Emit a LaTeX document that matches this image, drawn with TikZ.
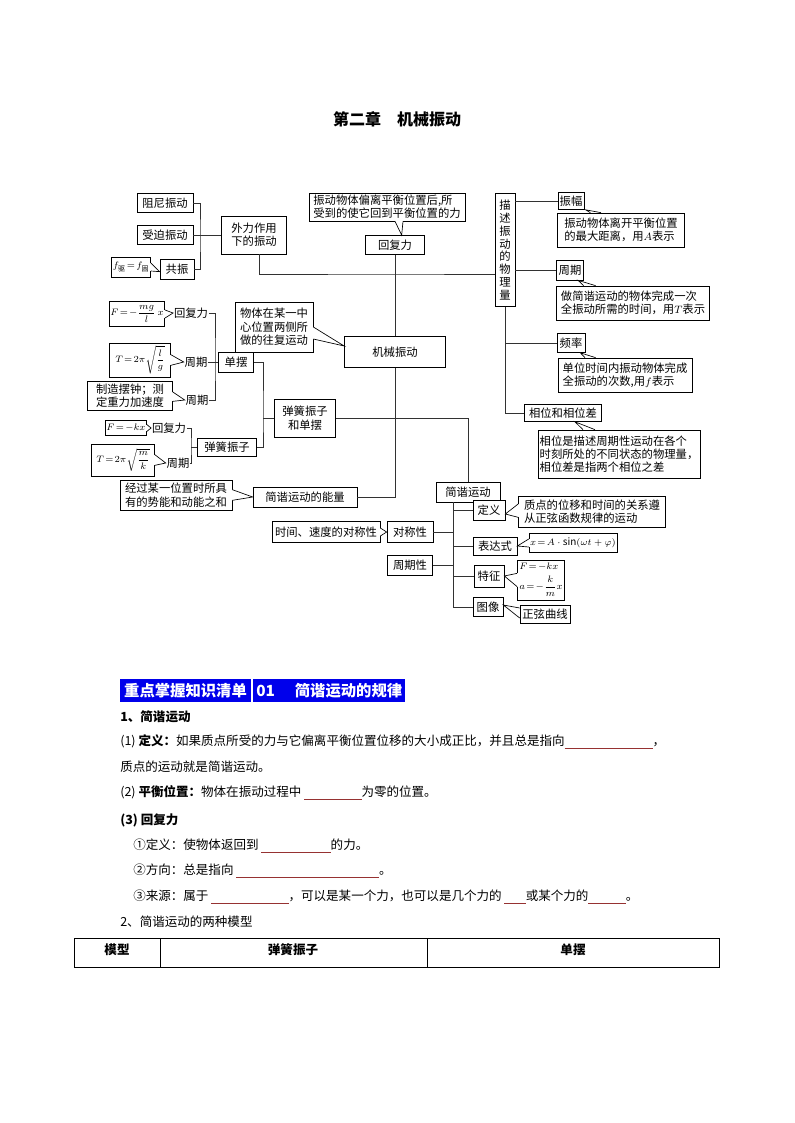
\documentclass[tikz,border=0pt]{standalone}
\usepackage{amsmath}
\usepackage{fontspec}
\setmainfont{Noto Sans CJK SC}
\usetikzlibrary{calc}
\definecolor{headblue}{RGB}{0,0,235}
\definecolor{blankred}{RGB}{150,50,50}
\definecolor{linegrey}{RGB}{50,50,50}
\newcommand{\dfont}{\fontsize{8.5}{10}\selectfont}
\newcommand{\vfont}{\fontsize{8.5}{9.6}\selectfont}
\newcommand{\mfont}{\fontsize{7}{8}\selectfont}
\newcommand{\tfont}{\fontsize{9.4}{11}\selectfont}
\newcommand{\blank}[1]{\textcolor{blankred}{\rule[-2.5pt]{#1pt}{0.75pt}}}
% speech-bubble pointer: two base points on a box edge and a tip
\newcommand{\pointto}[3]{%
  \fill[white] (#1) -- (#3) -- (#2) -- cycle;
  \draw[white, line width=1.2pt] (#1) -- (#2);
  \draw[line width=0.5pt] (#1) -- (#3) -- (#2);}

\begin{document}
\begin{tikzpicture}[x=0.75pt, y=-0.75pt,
    sz/.style 2 args={minimum width=#1*0.75pt, minimum height=#2*0.75pt},
    box/.style={draw, fill=white, line width=0.5pt, font=\dfont, align=center, inner sep=0.8pt},
    note/.style={box, align=left, inner sep=0.6pt},
    tag/.style={font=\dfont, inner sep=0.5pt},
    link/.style={line width=0.5pt, linegrey},
    txt/.style={anchor=west, font=\tfont, inner sep=0pt},
    headbox/.style={fill=headblue, text=white, font=\bfseries\fontsize{11.5}{13}\selectfont, inner sep=1pt}
]
\fill[white] (0,0) rectangle (794,1123);
\useasboundingbox (0,0) rectangle (794,1123);

\node[font=\bfseries\fontsize{12}{14}\selectfont] (title) at (397,119) {第二章\quad 机械振动};

% left group: forced vibration
\node[box, sz={56}{19}] (zuni)     at (165,203) {阻尼振动};
\node[box, sz={56}{19}] (shoupo)   at (165,235) {受迫振动};
\node[box, sz={34}{20}] (gongzhen) at (177,269) {共振};
\node[box, sz={39}{20}, font=\fontsize{7.5}{9}\selectfont] (fqu) at (131,267) {$f_{\text{驱}}\!=\!f_{\text{固}}$};
\node[box, sz={65}{38}] (waili)    at (254,235) {外力作用\\下的振动};

% restoring force
\node[note, sz={156}{28}] (fuli_note) at (387,207) {振动物体偏离平衡位置后,所\\受到的使它回到平衡位置的力};
\node[box, sz={59}{19}] (huifuli) at (395,245) {回复力};

% physical quantities
\node[box, sz={20}{113}, font=\vfont, inner sep=0pt] (miaoshu) at (505,250) {描\\述\\振\\动\\的\\物\\理\\量};
\node[box, sz={26}{17}]   (zhenfu)        at (571,201) {振幅};
\node[note, sz={127}{34}] (zhenfu_note)   at (621,230) {振动物体离开平衡位置\\的最大距离，用$A$表示};
\node[box, sz={27}{20}]   (zhouqi)        at (570,270) {周期};
\node[note, sz={153}{34}] (zhouqi_note)   at (633,303) {做简谐运动的物体完成一次\\全振动所需的时间，用$T$表示};
\node[box, sz={28}{19}]   (pinlv)         at (571,343) {频率};
\node[note, sz={134}{34}] (pinlv_note)    at (625,375) {单位时间内振动物体完成\\全振动的次数,用$f$表示};
\node[box, sz={77}{17}]   (xiangwei)      at (563,413) {相位和相位差};
\node[note, sz={162}{48}] (xiangwei_note) at (619,454) {相位是描述周期性运动在各个\\时刻所处的不同状态的物理量，\\相位差是指两个相位之差};

% pendulum
\node[box, sz={51}{25}, font=\mfont] (fd1) at (137,314) {$F\!=\!-\dfrac{mg}{l}\,x$};
\node[tag] (hf1) at (191,313) {回复力};
\node[box, sz={61}{34}, font=\mfont] (td1) at (140,360) {$T\!=\!2\pi\sqrt{\dfrac{l}{g}}$};
\node[tag] (zq1) at (196,362) {周期};
\node[box, sz={85}{29}] (baizhong) at (130,396) {制造摆钟；测\\定重力加速度};
\node[tag] (zq2) at (197,400) {周期};
\node[box, sz={35}{20}] (danbai) at (236,362) {单摆};

% mechanical vibration
\node[note, sz={78}{50}] (jixie_note) at (274,327) {物体在某一中\\心位置两侧所\\做的往复运动};
\node[box, sz={101}{31}] (jixie) at (395,352) {机械振动};
\node[box, sz={61}{38}] (tdb) at (305,418) {弹簧振子\\和单摆};

% spring oscillator
\node[box, sz={35}{15}, font=\fontsize{7.5}{9}\selectfont] (fd2) at (126,428) {$F\!=\!-kx$};
\node[tag] (hf2) at (169,428) {回复力};
\node[box, sz={59}{18}] (tanhuang) at (227,447) {弹簧振子};
\node[box, sz={63}{32}, font=\mfont] (td2) at (123,460) {$T\!=\!2\pi\sqrt{\dfrac{m}{k}}$};
\node[tag] (zq3) at (178,463) {周期};

% energy
\node[note, sz={112}{30}] (nl_note) at (176,495) {经过某一位置时所具\\有的势能和动能之和};
\node[box, sz={104}{20}] (nengliang) at (305,497) {简谐运动的能量};

% simple harmonic motion
\node[box, sz={64}{20}]  (jianxie)  at (468,492) {简谐运动};
\node[box, sz={108}{21}] (dc_note)  at (326,532) {时间、速度的对称性};
\node[box, sz={46}{21}]  (duichen)  at (410,532) {对称性};
\node[box, sz={45}{20}]  (zqx)      at (410,565) {周期性};
\node[box, sz={32}{20}]  (dingyi)   at (489,510) {定义};
\node[note, sz={147}{31}] (dy_note) at (592,512) {质点的位移和时间的关系遵\\从正弦函数规律的运动};
\node[box, sz={44}{18}]  (bds)      at (495,546) {表达式};
\node[box, sz={83}{19}, font=\fontsize{7.5}{9}\selectfont] (bds_note) at (573,543) {$x\!=\!A\cdot\sin(\omega t+\varphi)$};
\node[box, sz={30}{22}]  (tezheng)  at (489,576) {特征};
\node[note, sz={47}{40}, font=\fontsize{7}{9}\selectfont, inner sep=1pt] (tz_note) at (541,580) {$F\!=\!-kx$\\[3pt]$a\!=\!-\dfrac{k}{m}x$};
\node[box, sz={30}{19}]  (tuxiang)  at (488,607) {图像};
\node[box, sz={50}{18}]  (tx_note)  at (545,614) {正弦曲线};

% connectors
\coordinate (j1) at (200,235);
\draw[link] (zuni.east) -| (j1) |- (gongzhen.east);
\draw[link] (shoupo.east) -- (waili.west);
\coordinate (j2) at (395,274);
\draw[link] ([xshift=4pt]waili.south) |- (j2) -- (j2 -| miaoshu.west);
\draw[link] (huifuli.south) -- (jixie.north);
\draw[link] (jixie.south) |- (nengliang.east);
\draw[link] (zhenfu.west -| miaoshu.east) -- (zhenfu.west);
\draw[link] (zhouqi.west -| miaoshu.east) -- (zhouqi.west);
\draw[link] (miaoshu.south) |- (xiangwei.west);
\draw[link] (pinlv.west -| miaoshu.south) -- (pinlv.west);
\coordinate (j3) at (215,362);
\draw[link] (hf1.east) -| (j3) |- (zq2.east);
\draw[link] (zq1.east) -- (danbai.west);
\coordinate (j4) at (263,418);
\draw[link] (danbai.east) -| (j4) |- (tanhuang.east);
\draw[link] (j4) -- (tdb.west);
\coordinate (j5) at (191,447);
\draw[link] (hf2.east) -| (j5) |- (zq3.east);
\draw[link] (j5) -- (tanhuang.west);
\draw[link] (tdb.east) -| (jianxie.north);
\coordinate (j6) at (453,607);
\draw[link] (jianxie.south -| j6) |- (tuxiang.west);
\draw[link] (dingyi.west -| j6) -- (dingyi.west);
\draw[link] (bds.west -| j6) -- (bds.west);
\draw[link] (tezheng.west -| j6) -- (tezheng.west);
\draw[link] (duichen.east) -- (duichen.east -| j6);
\draw[link] (zqx.east) -- (zqx.east -| j6);

% pointers of the notes
\pointto{[xshift=6pt]fuli_note.south}{[xshift=12pt]fuli_note.south}{[xshift=5pt]huifuli.north}
\pointto{[xshift=-23pt]zhenfu_note.north}{[xshift=-15pt]zhenfu_note.north}{[xshift=11pt]zhenfu.south}
\pointto{[xshift=-37pt]zhouqi_note.north}{[xshift=-28pt]zhouqi_note.north}{[xshift=6pt]zhouqi.south}
\pointto{[xshift=-30pt]pinlv_note.north}{[xshift=-22pt]pinlv_note.north}{[xshift=7pt]pinlv.south}
\pointto{[xshift=-27pt]xiangwei_note.north}{[xshift=-18pt]xiangwei_note.north}{[xshift=9pt]xiangwei.south}
\pointto{[yshift=3pt]fqu.east}{[yshift=-3pt]fqu.east}{[yshift=-2pt]gongzhen.west}
\pointto{[yshift=3pt]fd1.east}{[yshift=-3pt]fd1.east}{hf1.west}
\pointto{[yshift=4pt]td1.east}{[yshift=-4pt]td1.east}{zq1.west}
\pointto{[yshift=3pt]baizhong.east}{[yshift=-4pt]baizhong.east}{zq2.west}
\pointto{[yshift=2.5pt]fd2.east}{[yshift=-2.5pt]fd2.east}{hf2.west}
\pointto{[yshift=4pt]td2.east}{[yshift=-4pt]td2.east}{zq3.west}
\pointto{[yshift=4pt]nl_note.east}{[yshift=-4pt]nl_note.east}{nengliang.west}
\pointto{[yshift=0pt]jixie_note.east}{[yshift=-9pt]jixie_note.east}{[yshift=4.5pt]jixie.west}
\pointto{[yshift=3pt]dc_note.east}{[yshift=-3pt]dc_note.east}{duichen.west}
\pointto{[yshift=6pt]dy_note.west}{[yshift=-4pt]dy_note.west}{[yshift=-3pt]dingyi.east}
\pointto{[yshift=3pt]bds_note.west}{[yshift=-3pt]bds_note.west}{bds.east}
\pointto{[yshift=5pt]tz_note.west}{[yshift=-5pt]tz_note.west}{tezheng.east}
\pointto{[yshift=4.5pt]tx_note.west}{[yshift=-3pt]tx_note.west}{[yshift=1.5pt]tuxiang.east}

% knowledge list
\node[headbox, sz={131}{23}] (hd1) at (185.5,690.5) {重点掌握知识清单};
\node[headbox, sz={152}{23}, anchor=west, align=left] (hd2) at (253,690.5) {01\hspace{1.3em}简谐运动的规律\hfill};
\node[txt, font=\bfseries\tfont] (s1) at (120,717) {1、简谐运动};
\node[txt] (l1) at (120,742) {(1) \textbf{定义：}如果质点所受的力与它偏离平衡位置位移的大小成正比，并且总是指向\blank{66}，};
\node[txt] (l2) at (120,767) {质点的运动就是简谐运动。};
\node[txt] (l3) at (120,793) {(2) \textbf{平衡位置：}物体在振动过程中 \blank{43}为零的位置。};
\node[txt, font=\bfseries\tfont] (l4) at (120,820) {(3) 回复力};
\node[txt] (l5) at (133,846) {①定义：使物体返回到 \blank{52}的力。};
\node[txt] (l6) at (133,871) {②方向：总是指向 \blank{107}。};
\node[txt] (l7) at (133,897) {③来源：属于 \blank{58}，可以是某一个力，也可以是几个力的 \blank{16}或某个力的\blank{28}。};
\node[txt] (s2) at (120,922) {2、简谐运动的两种模型};

% table head
\draw[line width=0.6pt] (74,938) rectangle (719,967);
\draw[line width=0.6pt] (160,938) -- (160,967);
\draw[line width=0.6pt] (427,938) -- (427,967);
\node[font=\bfseries\tfont] (c1) at (117,950) {模型};
\node[font=\bfseries\tfont] (c2) at (293,950) {弹簧振子};
\node[font=\bfseries\tfont] (c3) at (573,950) {单摆};
\end{tikzpicture}
\end{document}
